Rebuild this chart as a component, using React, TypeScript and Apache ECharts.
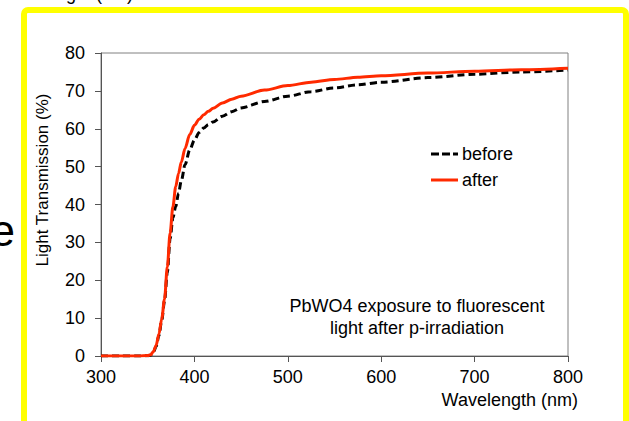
import React, { useEffect, useRef } from "react";
import * as echarts from "echarts";

const wavelengths = [300, 320, 340, 350, 353, 356, 359, 362, 365, 368, 371, 374, 377, 380, 383, 386, 390, 395, 400, 405, 410, 415, 420, 430, 440, 450, 475, 500, 525, 550, 575, 600, 650, 700, 750, 800];
const before = [0, 0, 0, 0.05, 0.2, 0.9, 2.5, 5.4, 9.4, 14.5, 22, 31, 36.5, 39.5, 43, 46.3, 50.5, 54.4, 57, 59, 60.2, 61.1, 61.8, 63.3, 64.5, 65.5, 67.2, 68.6, 69.8, 70.8, 71.6, 72.3, 73.5, 74.4, 75.0, 75.5];
const after = [0, 0, 0, 0.1, 0.3, 1.1, 2.8, 5.8, 9.8, 15, 23.5, 32.5, 39.5, 44.7, 48.2, 51.2, 54.8, 58.5, 60.9, 62.5, 63.7, 64.6, 65.4, 66.8, 67.8, 68.6, 70.2, 71.4, 72.3, 73.0, 73.6, 74.0, 74.7, 75.2, 75.6, 76.0];
const seriesNames = ["before", "after"];
const annotationLines = ["PbWO4 exposure to fluorescent", "light after p-irradiation"];
const yAxisTitle = "Light Transmission (%)";
const xAxisTitle = "Wavelength (nm)";

const FONT = "'Liberation Sans', Arial, sans-serif";
const DASH_ICON = "path://M0,0h8v3h-8z M11,0h8v3h-8z M22,0h5v3h-5z";
const SOLID_ICON = "path://M0,0h27v3h-27z";

export default function App() {
  const ref = useRef<HTMLDivElement>(null);
  useEffect(() => {
    document.body.style.margin = "0";
    const chart = echarts.init(ref.current!, null, { renderer: "svg" });
    chart.setOption({
      animation: false,
      backgroundColor: "#ffffff",
      textStyle: { fontFamily: FONT },
      grid: { left: 101, right: 61, top: 53, bottom: 65, show: true, borderColor: "#808080", borderWidth: 1 },
      legend: {
        data: [
          { name: seriesNames[0], icon: DASH_ICON },
          { name: seriesNames[1], icon: SOLID_ICON },
        ],
        orient: "vertical",
        left: 431,
        top: 144,
        padding: 0,
        itemWidth: 27,
        itemHeight: 3,
        itemGap: 6,
        textStyle: { fontSize: 18, color: "#000", fontFamily: FONT, lineHeight: 20, padding: [0, 0, 0, -1] },
      },
      xAxis: {
        type: "value",
        min: 300,
        max: 800,
        interval: 100,
        axisLine: { show: true, lineStyle: { color: "#555", width: 1 } },
        axisTick: { show: true, inside: false, length: 6, lineStyle: { color: "#555" } },
        axisLabel: { fontSize: 18, color: "#000", margin: 12, fontFamily: FONT },
        splitLine: { show: false },
      },
      yAxis: {
        type: "value",
        min: 0,
        max: 80,
        interval: 10,
        axisLine: { show: true, lineStyle: { color: "#555", width: 1 } },
        axisTick: { show: true, inside: false, length: 6, lineStyle: { color: "#555" } },
        axisLabel: { fontSize: 18, color: "#000", margin: 16, fontFamily: FONT },
        splitLine: { show: false },
      },
      series: [
        {
          name: seriesNames[0],
          type: "line",
          symbol: "none",
          smooth: 0.3,
          smoothMonotone: "x",
          data: wavelengths.map((w, i) => [w, before[i]]),
          lineStyle: { color: "#000000", width: 3, type: [7, 4] },
          itemStyle: { color: "#000000" },
        },
        {
          name: seriesNames[1],
          type: "line",
          symbol: "none",
          smooth: 0.3,
          smoothMonotone: "x",
          data: wavelengths.map((w, i) => [w, after[i]]),
          lineStyle: { color: "#ff2a00", width: 3 },
          itemStyle: { color: "#ff2a00" },
        },
      ],
      graphic: [
        {
          type: "rect",
          shape: { x: 24, y: 10, width: 602, height: 460, r: 4 },
          style: { fill: "none", stroke: "#ffff00", lineWidth: 6 },
          silent: true,
        },
        {
          type: "text",
          x: 133,
          y: 3,
          style: { text: xAxisTitle, fontSize: 18, fontFamily: FONT, fill: "#000", align: "right", verticalAlign: "bottom" },
        },
        {
          type: "text",
          x: 15,
          y: 230,
          style: { text: "e", fontSize: 44, fontFamily: FONT, fill: "#000", align: "right", verticalAlign: "middle" },
        },
        {
          type: "text",
          x: 42,
          y: 180,
          rotation: Math.PI / 2,
          style: { text: yAxisTitle, fontSize: 17, fontFamily: FONT, fill: "#000", align: "center", verticalAlign: "middle" },
        },
        {
          type: "text",
          x: 578,
          y: 400,
          style: { text: xAxisTitle, fontSize: 18, fontFamily: FONT, fill: "#000", align: "right", verticalAlign: "middle" },
        },
        {
          type: "text",
          x: 417,
          y: 306,
          style: { text: annotationLines[0], fontSize: 18, fontFamily: FONT, fill: "#000", align: "center", verticalAlign: "middle" },
        },
        {
          type: "text",
          x: 417,
          y: 328,
          style: { text: annotationLines[1], fontSize: 18, fontFamily: FONT, fill: "#000", align: "center", verticalAlign: "middle" },
        },
      ],
    });
    return () => chart.dispose();
  }, []);
  return <div ref={ref} style={{ position: "absolute", left: 0, top: 0, width: 629, height: 421 }} />;
}
